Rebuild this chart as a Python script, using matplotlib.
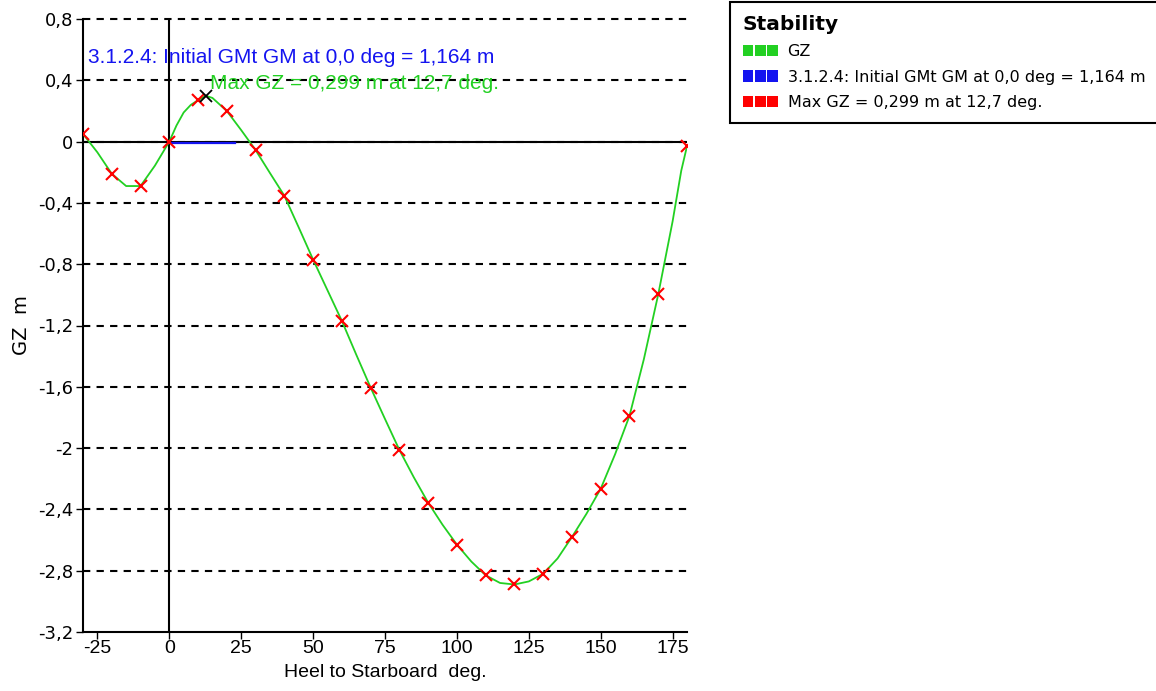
import matplotlib
matplotlib.use('Agg')
import matplotlib.pyplot as plt
from matplotlib.patches import Patch
from matplotlib.legend_handler import HandlerTuple

# ---------------- data ----------------
heel_markers = [-30, -20, -10, 0, 10, 20, 30, 40, 50, 60, 70, 80, 90, 100,
                110, 120, 130, 140, 150, 160, 170, 180]
gz_markers = [0.05, -0.21, -0.29, 0.0, 0.27, 0.20, -0.055, -0.353, -0.77, -1.17,
              -1.605, -2.012, -2.356, -2.63, -2.83, -2.89, -2.82, -2.58, -2.265,
              -1.79, -0.997, -0.03]

heel_curve = [-30, -25, -20, -15, -10, -5, 0, 2.5, 5, 7.5, 10, 12.7, 15, 20, 25, 30,
              35, 40, 45, 50, 55, 60, 65, 70, 75, 80, 85, 90, 95, 100, 105, 110, 115,
              120, 125, 130, 135, 140, 145, 150, 155, 160, 165, 170, 175, 178, 180]
gz_curve = [0.05, -0.07, -0.21, -0.29, -0.29, -0.157, 0.0, 0.105, 0.19, 0.24, 0.27,
            0.299, 0.285, 0.20, 0.075, -0.055, -0.205, -0.353, -0.56, -0.77, -0.97,
            -1.17, -1.39, -1.605, -1.81, -2.012, -2.19, -2.356, -2.50, -2.63, -2.74,
            -2.83, -2.88, -2.89, -2.87, -2.82, -2.72, -2.58, -2.43, -2.265, -2.04,
            -1.79, -1.42, -0.997, -0.52, -0.19, -0.03]

max_gz_heel = [12.7]
max_gz_value = [0.299]

gm_line_heel = [0.0, 22.8]
gm_line_gz = [-0.012, -0.012]

xtick_vals = [-25, 0, 25, 50, 75, 100, 125, 150, 175]
xtick_labels = ['-25', '0', '25', '50', '75', '100', '125', '150', '175']
ytick_vals = [0.8, 0.4, 0.0, -0.4, -0.8, -1.2, -1.6, -2.0, -2.4, -2.8, -3.2]
ytick_labels = ['0,8', '0,4', '0', '-0,4', '-0,8', '-1,2', '-1,6', '-2', '-2,4',
                '-2,8', '-3,2']

legend_labels = ['GZ', '3.1.2.4: Initial GMt GM at 0,0 deg = 1,164 m',
                 'Max GZ = 0,299 m at 12,7 deg.']
gm_text = '3.1.2.4: Initial GMt GM at 0,0 deg = 1,164 m'
max_text = 'Max GZ = 0,299 m at 12,7 deg.'

GREEN = '#22d022'
BLUE = '#1414f0'
RED = '#ff0000'

# ---------------- figure ----------------
W, H = 1156, 691
fig = plt.figure(figsize=(W / 100, H / 100), dpi=100)
ax = fig.add_axes([83 / W, 1 - 632 / H, (687 - 83) / W, (632 - 19) / H])
ax.set_xlim(-30, 180)
ax.set_ylim(-3.2, 0.8)

for y in ytick_vals:
    if y > -3.2:
        ax.axhline(y, color='black', lw=1.5, ls=(0, (3.5, 3)), zorder=1, clip_on=False)
ax.axhline(0, color='black', lw=1.5, zorder=2)
ax.axvline(0, color='black', lw=1.5, zorder=2)

ax.plot(gm_line_heel, gm_line_gz, color=BLUE, lw=1.6, zorder=3)
ax.plot(heel_curve, gz_curve, color=GREEN, lw=1.3, zorder=4)
ax.plot(heel_markers, gz_markers, ls='none', marker='x', color=RED, ms=8,
        mew=1.5, zorder=5)
ax.plot(max_gz_heel, max_gz_value, ls='none', marker='x', color='black', ms=8,
        mew=1.3, zorder=6)

ax.text(-28.3, 0.548, gm_text, color=BLUE, fontsize=15, family='Liberation Sans',
        va='center', ha='left')
ax.text(14.2, 0.379, max_text, color=GREEN, fontsize=15, family='Liberation Sans',
        va='center', ha='left')

for s in ['top', 'right']:
    ax.spines[s].set_visible(False)
for s in ['left', 'bottom']:
    ax.spines[s].set_linewidth(1.5)
    ax.spines[s].set_color('black')

ax.set_xticks(xtick_vals)
ax.set_xticklabels(xtick_labels, family='Liberation Sans', fontsize=14)
ax.set_yticks(ytick_vals)
ax.set_yticklabels(ytick_labels, family='DejaVu Sans', fontsize=13)
ax.tick_params(axis='x', direction='out', length=5, width=1, pad=0.5)
ax.tick_params(axis='y', direction='out', length=5, width=1, pad=2)

ax.set_xlabel('Heel to Starboard  deg.', family='Liberation Sans', fontsize=14)
ax.xaxis.set_label_coords(0.5, -0.052)
ax.set_ylabel('GZ  m', family='DejaVu Sans', fontsize=14)
ax.yaxis.set_label_coords(-0.086, 0.5)

handles = [(Patch(facecolor=c, edgecolor='none'), Patch(facecolor=c, edgecolor='none'),
            Patch(facecolor=c, edgecolor='none')) for c in [GREEN, BLUE, RED]]
leg = fig.legend(handles, legend_labels,
                 handler_map={tuple: HandlerTuple(ndivide=None, pad=0.12)},
                 loc='upper left', bbox_to_anchor=(730 / W, 0.5, 0.375, 1 - 2 / H - 0.5),
                 mode='expand', title='Stability',
                 title_fontproperties={'weight': 'bold', 'size': 14.5, 'family': 'DejaVu Sans'},
                 alignment='left', prop={'family': 'DejaVu Sans', 'size': 11.5},
                 frameon=True, fancybox=False, edgecolor='black', framealpha=1,
                 handlelength=2.2, handleheight=0.75, handletextpad=0.6,
                 labelspacing=0.65, borderpad=0.8, borderaxespad=0)
leg.get_frame().set_linewidth(1.5)

fig.savefig('out.png', dpi=100)
